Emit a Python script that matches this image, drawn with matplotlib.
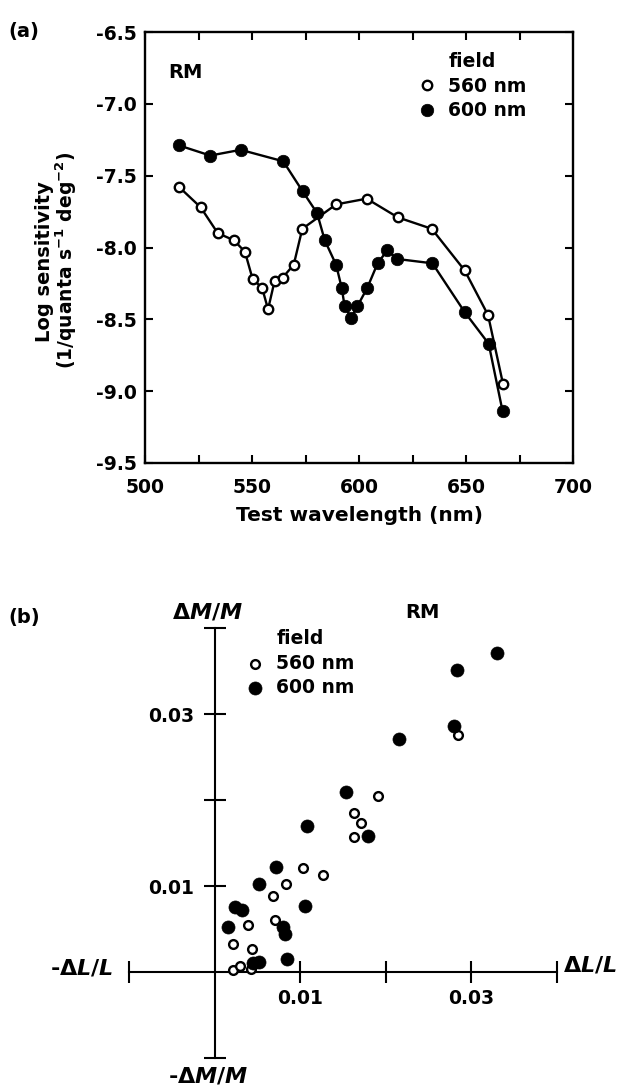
import matplotlib.pyplot as plt
import numpy as np

plt.rcParams['font.family'] = ['DejaVu Sans']
plt.rcParams['font.weight'] = 'bold'
plt.rcParams['font.size'] = 13.5
plt.rcParams['axes.unicode_minus'] = False
plt.rcParams['mathtext.fontset'] = 'custom'
plt.rcParams['mathtext.rm'] = 'DejaVu Sans:bold'
plt.rcParams['mathtext.bf'] = 'DejaVu Sans:bold'
plt.rcParams['mathtext.it'] = 'DejaVu Sans:italic:bold'

# (a) test sensitivity on the two adapting fields
wl_560 = [516, 526, 534, 541.6, 546.7, 550.3, 554.7, 557.5, 560.6, 564.3,
          569.5, 573.5, 589.3, 603.6, 618.1, 634, 649.4, 660.3, 667.3]
sens_560 = [-7.58, -7.72, -7.90, -7.95, -8.03, -8.22, -8.28, -8.43, -8.23, -8.21,
            -8.12, -7.87, -7.70, -7.66, -7.79, -7.87, -8.16, -8.47, -8.95]
wl_600 = [516, 530.5, 544.7, 564.6, 573.7, 580.4, 584, 589.3, 591.9, 593.3,
          596.3, 599.2, 603.9, 608.7, 613.2, 617.9, 634.3, 649.4, 660.6, 667.1]
sens_600 = [-7.29, -7.36, -7.32, -7.40, -7.61, -7.76, -7.95, -8.12, -8.28, -8.41,
            -8.49, -8.41, -8.28, -8.11, -8.02, -8.08, -8.11, -8.45, -8.67, -9.14]

# (b) cone contrasts at threshold
dl_560 = [0.0103, 0.0127, 0.0083, 0.0068, 0.0039, 0.0070, 0.0021, 0.0043,
          0.0021, 0.0030, 0.0042, 0.0285, 0.0191, 0.0163, 0.0171, 0.0163]
dm_560 = [0.0121, 0.0113, 0.0102, 0.0088, 0.0055, 0.0060, 0.0033, 0.0027,
          0.0002, 0.0007, 0.0003, 0.0276, 0.0205, 0.0185, 0.0173, 0.0157]
dl_600 = [0.0072, 0.0052, 0.0024, 0.0032, 0.0106, 0.0015, 0.0080, 0.0082, 0.0052,
          0.0045, 0.0085, 0.0283, 0.0280, 0.0215, 0.0153, 0.0108, 0.0179, 0.0330]
dm_600 = [0.0122, 0.0102, 0.0076, 0.0072, 0.0077, 0.0053, 0.0053, 0.0044, 0.0012,
          0.0010, 0.0015, 0.0352, 0.0286, 0.0271, 0.0209, 0.0170, 0.0158, 0.0371]

field_labels = ['560 nm', '600 nm']
wl_ticks = [500, 525, 550, 575, 600, 625, 650, 675, 700]
wl_ticklabels = ['500', '', '550', '', '600', '', '650', '', '700']
sens_ticks = [-9.5, -9.0, -8.5, -8.0, -7.5, -7.0, -6.5]
contrast_ticks = [-0.01, 0.01, 0.02, 0.03, 0.04]
contrast_ticklabels = ['', '0.01', '', '0.03', '']

W, H = 629, 1089


def fpos(x, y):
    return x / W, 1 - y / H


fig = plt.figure(figsize=(W / 100, H / 100), dpi=100)

# ---- panel (a)
ax = fig.add_axes([145 / W, 1 - 463 / H, 428 / W, 431 / H])
ax.plot(wl_560, sens_560, '-o', color='black', lw=1.7, ms=6.8, mew=1.7,
        mfc='white', mec='black', label=field_labels[0])
ax.plot(wl_600, sens_600, '-o', color='black', lw=1.7, ms=9, mew=0.5,
        mfc='black', mec='black', label=field_labels[1])
ax.set_xlim(500, 700)
ax.set_ylim(-9.5, -6.5)
ax.set_xticks(wl_ticks)
ax.set_xticklabels(wl_ticklabels)
ax.set_yticks(sens_ticks)
ax.set_yticklabels(['%.1f' % v for v in sens_ticks])
ax.tick_params(direction='in', length=6, width=1.5, top=True, right=True)
ax.tick_params(axis='x', pad=11)
ax.tick_params(axis='y', pad=6)
for s in ax.spines.values():
    s.set_linewidth(1.7)
ax.set_xlabel('Test wavelength (nm)', labelpad=6, fontsize=14.5, fontweight='bold')
ax.text(0.055, 0.905, 'RM', transform=ax.transAxes, fontsize=14, va='center')
leg = ax.legend(title='field', frameon=False, loc='upper left',
                bbox_to_anchor=fpos(418, 52), bbox_transform=fig.transFigure,
                handlelength=1.0, handletextpad=0.6, labelspacing=0.3,
                borderpad=0, borderaxespad=0, fontsize=13.5,
                title_fontproperties={'weight': 'bold', 'size': 13.5})
# markers only in the key
for h in leg.legend_handles:
    h.set_linestyle('none')
fig.text(*fpos(45, 262), 'Log sensitivity', rotation=90, ha='center', va='center',
         fontsize=14)
fig.text(*fpos(66, 260), '(1/quanta s$^{-1}$ deg$^{-2}$)', rotation=90,
         ha='center', va='center')
fig.text(*fpos(8, 32), '(a)', ha='left', va='center', fontsize=14)

# ---- panel (b)
bx = fig.add_axes([129.3 / W, 1 - 1058 / H, 427.4 / W, 429.7 / H])
bx.scatter(dl_560, dm_560, s=6.3 ** 2, facecolors='white', edgecolors='black',
           linewidths=1.7, label=field_labels[0], zorder=3)
bx.scatter(dl_600, dm_600, s=9.4 ** 2, facecolors='black', edgecolors='black',
           linewidths=0.5, label=field_labels[1], zorder=4)
bx.set_xlim(-0.01, 0.04)
bx.set_ylim(-0.01, 0.04)
bx.spines['top'].set_visible(False)
bx.spines['right'].set_visible(False)
bx.spines['left'].set_position('zero')
bx.spines['bottom'].set_position('zero')
for s in ('left', 'bottom'):
    bx.spines[s].set_linewidth(1.5)
bx.set_xticks(contrast_ticks)
bx.set_xticklabels(contrast_ticklabels)
bx.set_yticks(contrast_ticks)
bx.set_yticklabels(contrast_ticklabels)
bx.tick_params(direction='inout', length=16, width=1.5)
bx.tick_params(axis='x', pad=4)
bx.tick_params(axis='y', pad=7)
bx.legend(title='field', frameon=False, loc='upper left',
          bbox_to_anchor=fpos(246, 629), bbox_transform=fig.transFigure,
          handlelength=1.0, handletextpad=0.6, labelspacing=0.3,
          borderpad=0, borderaxespad=0, fontsize=13.5,
          title_fontproperties={'weight': 'bold', 'size': 13.5})
fig.text(*fpos(422, 613), 'RM', ha='center', va='center', fontsize=14)
fig.text(*fpos(208, 612), r'$\Delta M/M$', ha='center', va='center', fontsize=16)
fig.text(*fpos(208, 1076), r'-$\Delta M/M$', ha='center', va='center', fontsize=16)
fig.text(*fpos(113, 968), r'-$\Delta L/L$', ha='right', va='center', fontsize=16)
fig.text(*fpos(563, 965), r'$\Delta L/L$', ha='left', va='center', fontsize=16)
fig.text(*fpos(8, 618), '(b)', ha='left', va='center', fontsize=14)

fig.savefig('out.png', dpi=100)
